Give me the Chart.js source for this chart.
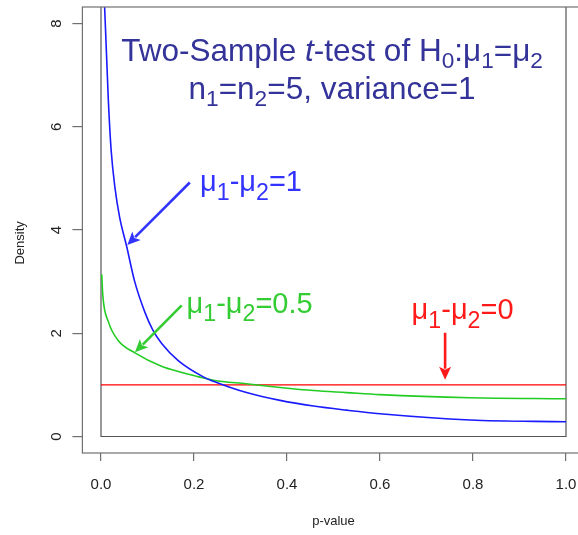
<!DOCTYPE html>
<html>
<head>
<meta charset="utf-8">
<script src="https://cdn.jsdelivr.net/npm/chart.js@4.4.1/dist/chart.umd.min.js"></script>
<style>
html, body { margin: 0; padding: 0; background: #fff; overflow: hidden; }
#wrap { width: 600px; height: 535px; }
</style>
</head>
<body>
<div id="wrap"><canvas id="pvalCanvas" width="600" height="535"></canvas></div>
<script>
// p-value (x) and density (y)
const pBlue = [0.005, 0.008, 0.0157, 0.0217, 0.03, 0.04, 0.055, 0.0725, 0.0947, 0.111, 0.1305, 0.166, 0.221, 0.2416, 0.313, 0.385, 0.457, 0.528, 0.6, 0.794, 1.0];
const dBlue = [9.2, 8.27, 6.53, 5.56, 4.82, 4.25, 3.69, 3.0, 2.40, 2.07, 1.80, 1.47, 1.15, 1.07, 0.85, 0.70, 0.59, 0.51, 0.44, 0.32, 0.285];
const pGreen = [0.0015, 0.004, 0.016, 0.037, 0.073, 0.13, 0.17, 0.209, 0.2416, 0.313, 0.385, 0.457, 0.528, 0.6, 0.794, 1.0];
const dGreen = [3.14, 2.72, 2.22, 1.86, 1.62, 1.36, 1.25, 1.16, 1.09, 1.02, 0.95, 0.89, 0.85, 0.81, 0.75, 0.73];
const pRed = [0, 1];
const dRed = [1, 1];
// inner frame at p=0, density=0 and p=1
const pFrame = [0, 0, 1, 1];
const dFrame = [8.32, 0, 0, 8.32];

const xTicks = [0, 0.2, 0.4, 0.6, 0.8, 1.0];
const yTicks = [0, 2, 4, 6, 8];

const FONT = '"Liberation Sans", Arial, sans-serif';

function pts(xs, ys) {
    return xs.map((x, i) => ({ x: x, y: ys[i] }));
}

// text with ~sub~ and *italic* parts
function drawRich(ctx, str, x, y, size, color, align, subScale, subShift) {
    const parts = str.split(/(~[^~]*~|\*[^*]*\*)/).filter(s => s.length);
    const items = parts.map(s => {
        if (s[0] === '~') return { t: s.slice(1, -1), sub: true };
        if (s[0] === '*') return { t: s.slice(1, -1), it: true };
        return { t: s };
    });
    const fontOf = it => (it.it ? 'italic ' : '') + (it.sub ? size * subScale : size) + 'px ' + FONT;
    let w = 0;
    items.forEach(it => { ctx.font = fontOf(it); w += ctx.measureText(it.t).width; });
    let cx = align === 'center' ? x - w / 2 : x;
    ctx.fillStyle = color;
    ctx.textAlign = 'left';
    ctx.textBaseline = 'alphabetic';
    items.forEach(it => {
        ctx.font = fontOf(it);
        ctx.fillText(it.t, cx, y + (it.sub ? size * subShift : 0));
        cx += ctx.measureText(it.t).width;
    });
}

function drawArrow(ctx, x1, y1, x2, y2, color) {
    const ang = Math.atan2(y2 - y1, x2 - x1);
    const len = 13, half = 6;
    const bx = x2 - len * Math.cos(ang), by = y2 - len * Math.sin(ang);
    ctx.strokeStyle = color;
    ctx.lineWidth = 2.6;
    ctx.beginPath();
    ctx.moveTo(x1, y1);
    ctx.lineTo(bx + 2 * Math.cos(ang), by + 2 * Math.sin(ang));
    ctx.stroke();
    ctx.fillStyle = color;
    ctx.beginPath();
    ctx.moveTo(x2, y2);
    ctx.lineTo(bx - half * Math.sin(ang), by + half * Math.cos(ang));
    ctx.lineTo(bx + 3 * Math.cos(ang), by + 3 * Math.sin(ang));
    ctx.lineTo(bx + half * Math.sin(ang), by - half * Math.cos(ang));
    ctx.closePath();
    ctx.fill();
}

const decorPlugin = {
    id: 'decor',
    afterDraw(chart) {
        const ctx = chart.ctx;
        const a = chart.chartArea;
        const xs = chart.scales.x, ys = chart.scales.y;
        const X = v => xs.getPixelForValue(v), Y = v => ys.getPixelForValue(v);
        ctx.save();
        // outer box
        ctx.strokeStyle = '#707070';
        ctx.lineWidth = 1.2;
        ctx.strokeRect(a.left, a.top, a.right - a.left, a.bottom - a.top);

        // rotated y tick labels
        ctx.fillStyle = '#222';
        ctx.font = '15px ' + FONT;
        ctx.textAlign = 'center';
        ctx.textBaseline = 'middle';
        yTicks.forEach(v => {
            ctx.save();
            ctx.translate(57, Y(v));
            ctx.rotate(-Math.PI / 2);
            ctx.fillText(String(v), 0, 0);
            ctx.restore();
        });
        // axis titles
        ctx.font = '13px ' + FONT;
        ctx.fillText('p-value', X(0.5), 521);
        ctx.save();
        ctx.translate(20, Y(3.75));
        ctx.rotate(-Math.PI / 2);
        ctx.fillText('Density', 0, 0);
        ctx.restore();

        // title
        drawRich(ctx, 'Two-Sample *t*-test of H~0~:μ~1~=μ~2~', X(0.497), Y(7.27), 31.5, '#333399', 'center', 0.72, 0.21);
        drawRich(ctx, 'n~1~=n~2~=5, variance=1', X(0.497), Y(6.53), 31.5, '#333399', 'center', 0.72, 0.21);

        // labels and arrows
        drawRich(ctx, 'μ~1~-μ~2~=1', X(0.213), Y(4.75), 29, '#3333ff', 'left', 0.8, 0.3);
        drawArrow(ctx, X(0.191), Y(4.92), X(0.0566), Y(3.71), '#3333ff');
        drawRich(ctx, 'μ~1~-μ~2~=0.5', X(0.184), Y(2.40), 29, '#33cc33', 'left', 0.8, 0.3);
        drawArrow(ctx, X(0.1735), Y(2.54), X(0.073), Y(1.63), '#33cc33');
        drawRich(ctx, 'μ~1~-μ~2~=0', X(0.668), Y(2.27), 29, '#ff1a1a', 'left', 0.8, 0.3);
        drawArrow(ctx, X(0.74), Y(2.01), X(0.74), Y(1.10), '#ff1a1a');
        ctx.restore();
    }
};

const canvas = document.getElementById('pvalCanvas');
const chart = new Chart(canvas, {
    type: 'scatter',
    data: {
        datasets: [
            {
                label: 'mu1-mu2=1',
                data: pts(pBlue, dBlue),
                borderColor: '#1a1aff',
                borderWidth: 1.6,
                order: 1
            },
            {
                label: 'mu1-mu2=0.5',
                data: pts(pGreen, dGreen),
                borderColor: '#22cc22',
                borderWidth: 1.6,
                order: 2
            },
            {
                label: 'mu1-mu2=0',
                data: pts(pRed, dRed),
                borderColor: '#ff0000',
                borderWidth: 1.4,
                order: 3
            },
            {
                label: 'frame',
                data: pts(pFrame, dFrame),
                borderColor: '#555',
                borderWidth: 1.2,
                cubicInterpolationMode: 'default',
                tension: 0,
                order: 4
            }
        ]
    },
    options: {
        responsive: false,
        animation: false,
        showLine: true,
        layout: { padding: { top: 7, right: 15.4, left: 0, bottom: 0 } },
        elements: {
            point: { radius: 0 },
            line: { cubicInterpolationMode: 'monotone', fill: false }
        },
        plugins: {
            legend: { display: false },
            tooltip: { enabled: false }
        },
        scales: {
            x: {
                type: 'linear',
                min: -0.04,
                max: 1.04,
                afterBuildTicks: s => { s.ticks = xTicks.map(v => ({ value: v })); },
                afterFit: s => { s.height = 82; },
                border: { display: false },
                grid: { drawOnChartArea: false, drawTicks: true, tickLength: 8, color: '#707070', lineWidth: 1.2 },
                ticks: {
                    color: '#222',
                    font: { family: FONT, size: 15 },
                    padding: 15,
                    maxRotation: 0,
                    callback: v => Number(v).toFixed(1)
                }
            },
            y: {
                type: 'linear',
                min: -0.32,
                max: 8.32,
                afterBuildTicks: s => { s.ticks = yTicks.map(v => ({ value: v })); },
                afterFit: s => { s.width = 82.4; },
                border: { display: false },
                grid: { drawOnChartArea: false, drawTicks: true, tickLength: 10, color: '#707070', lineWidth: 1.2 },
                ticks: { display: false }
            }
        }
    },
    plugins: [decorPlugin]
});
</script>
</body>
</html>
